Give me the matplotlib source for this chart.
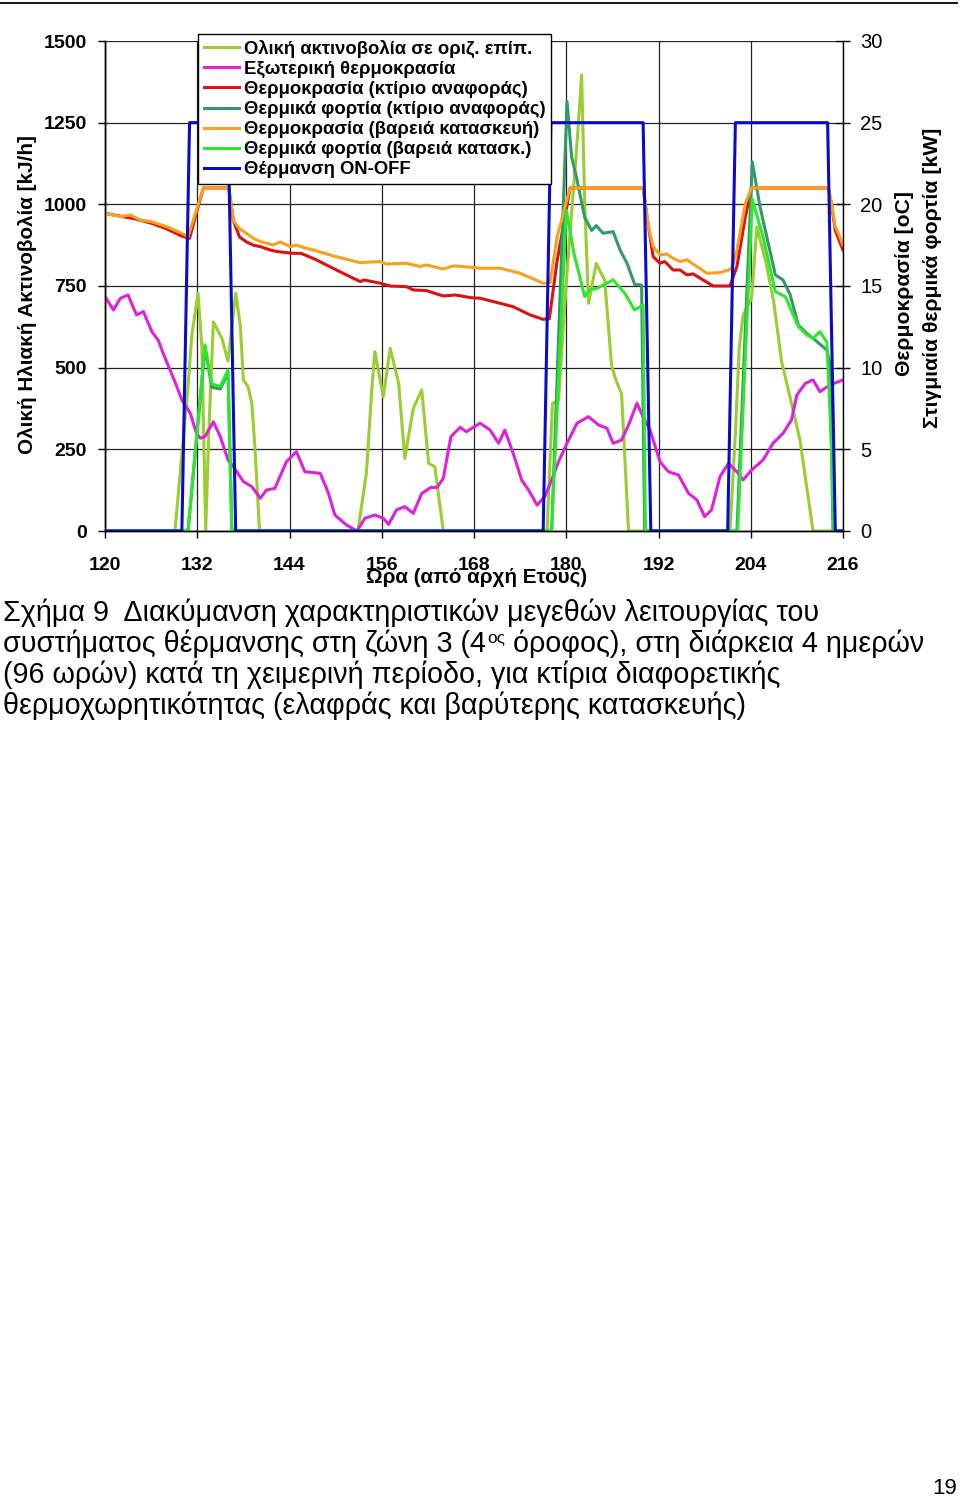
import matplotlib
matplotlib.use('Agg')
import matplotlib.pyplot as plt
from matplotlib.lines import Line2D

plt.rcParams['font.family'] = ['Liberation Sans', 'DejaVu Sans']

# ---------------- data ----------------
# Total solar radiation on horizontal surface [kJ/h]  (left axis)
rad_h = [120, 129.1, 130, 130.8, 131.3, 132.1, 132.6, 133.1, 133.5, 134.1, 135.2, 136, 137, 137.6, 138, 138.6, 139.1, 139.5, 140.1,
         152.9, 154, 154.7, 155.1, 156.2, 157.1, 158.2, 159, 160.1, 161.2, 162.1, 162.9, 164,
         177.5, 178.2, 179, 180, 181.4, 182, 182.4, 182.9, 183.9, 185, 185.9, 186.5, 187.2, 188.1,
         201.3, 202, 202.5, 203, 204.1, 204.8, 206, 207, 208, 209.1, 210.4, 212.1, 216]
rad_v = [0, 0, 235, 442, 600, 728, 564, 0, 300, 640, 590, 520, 728, 630, 462, 442, 391, 258, 0,
         0, 177, 432, 549, 411, 559, 452, 222, 375, 432, 207, 197, 0,
         0, 390, 400, 760, 1187, 1396, 1003, 697, 819, 768, 505, 460, 420, 0,
         0, 300, 560, 660, 712, 931, 820, 700, 520, 411, 279, 0, 0]

# Outdoor temperature [oC] (right axis)
out_h = [120, 121.1, 122, 123, 124.1, 125, 126.1, 126.9, 128, 129.1,
         130, 131.1, 131.9, 132.4, 133, 134.1, 135, 136, 136.7, 138,
         139.1, 140.2, 141, 142.1, 143.6, 144.9, 146, 148, 149, 149.9,
         151.4, 152.8, 153.8, 155.1, 156.2, 156.9, 157.9, 159, 160.1, 161.2,
         162.4, 163.2, 164, 165, 166.2, 167, 168.8, 170.1, 171.2, 172,
         173.1, 174.2, 175.1, 176.2, 177.2, 178.1, 179, 180.1, 181.4, 182.9,
         184.2, 185.3, 186.1, 187.2, 188.1, 189.2, 190, 190.9, 192.2, 193.3,
         194.6, 195.9, 197, 198, 198.9, 200, 201.1, 202.2, 203, 204.1,
         205.6, 206.9, 208.2, 209.3, 210, 211.1, 212.1, 213, 214.3, 216]
out_v = [14.35, 13.53, 14.25, 14.45, 13.23, 13.43, 12.2, 11.7, 10.37, 9.14,
         8.02, 7.2, 5.98, 5.68, 5.78, 6.69, 5.78, 4.35, 3.94, 3.02,
         2.72, 2.0, 2.51, 2.61, 4.24, 4.86, 3.63, 3.53, 2.4, 0.98,
         0.37, 0.0, 0.78, 0.98, 0.78, 0.4, 1.29, 1.49, 1.08, 2.3,
         2.67, 2.67, 3.22, 5.78, 6.35, 6.08, 6.6, 6.18, 5.37, 6.18,
         4.76, 3.12, 2.51, 1.59, 2.1, 3.12, 4.24, 5.37, 6.6, 7.0,
         6.49, 6.29, 5.37, 5.57, 6.49, 7.82, 7.0, 6.18, 4.24, 3.63,
         3.43, 2.31, 1.9, 0.88, 1.29, 3.33, 4.14, 3.63, 3.12, 3.73,
         4.35, 5.37, 5.98, 6.8, 8.33, 9.04, 9.25, 8.53, 8.94, 9.25]

# Zone temperature, reference building [oC]
red_h = [120, 124, 126, 128, 130, 131, 131.9, 132.8, 136.1, 136.7,
         137.5, 138.4, 139.3, 140.3, 141.5, 142.5, 144.5, 145.5, 147.5, 150.1,
         153.2, 153.7, 155.8, 157.1, 159.2, 160.1, 161.8, 164, 165.6, 167.5,
         168.8, 171.4, 173.1, 175.3, 177, 177.8, 178.8, 180.5, 190, 190.5,
         191.3, 192.2, 192.8, 193.9, 194.8, 195.7, 196.5, 197.8, 199.1, 201.3,
         202.2, 203.3, 204.1, 214.1, 214.5, 215, 215.5, 216]
red_v = [19.45, 19.1, 18.85, 18.5, 18.05, 17.92, 19.5, 21.0, 21.0, 19.0,
         18.0, 17.7, 17.5, 17.4, 17.2, 17.1, 17.0, 17.0, 16.6, 15.98,
         15.27, 15.37, 15.17, 15.0, 14.96, 14.76, 14.72, 14.39, 14.45, 14.29,
         14.25, 13.94, 13.73, 13.23, 12.96, 13.0, 16.5, 21.0, 21.0, 19.25,
         16.8, 16.39, 16.5, 15.98, 15.98, 15.68, 15.74, 15.37, 15.0, 15.0,
         16.19, 19.25, 21.0, 21.0, 20.0, 18.4, 17.8, 17.2]

# Thermal loads, reference building [kW]
ref_h = [120, 130.8, 133, 133.9, 135, 136, 136.5,
         178.1, 180.1, 180.7, 181.4, 182.4, 183.3, 183.9, 184.8, 186.1, 187, 187.9, 188.9, 189.8, 190.2,
         202.2, 204.2, 205.2, 207.2, 208.2, 209.1, 210.2, 211.3, 212.1, 213.9, 214.3, 214.7, 216]
ref_v = [0, 0, 11.2, 8.8, 8.7, 9.7, 0,
         0, 26.3, 22.9, 21.5, 19.2, 18.4, 18.7, 18.23, 18.33, 17.2, 16.4, 15.1, 15.06, 0,
         0, 22.6, 19.86, 15.68, 15.37, 14.5, 12.6, 12.1, 11.8, 11.08, 10.2, 0, 0]

# Zone temperature, heavy construction [oC]
ora_h = [120, 122, 123.3, 124.6, 126, 128, 129.8, 130.8, 131.9, 132.8,
         136.1, 136.7, 137.5, 138.4, 139.3, 140.2, 141.9, 142.8, 144.1, 144.9,
         146.2, 147.1, 149.7, 153.2, 155.8, 156.6, 159.2, 161, 161.8, 164,
         165.3, 167.5, 168.8, 171.4, 174, 177, 177.9, 178.8, 180.5, 190,
         190.7, 191.3, 192.2, 193.1, 193.9, 194.8, 195.7, 197, 198.3, 200,
         201.1, 201.5, 202.2, 203.3, 204.1, 214.1, 214.5, 215, 215.5, 216]
ora_v = [19.45, 19.25, 19.35, 19.04, 18.94, 18.64, 18.27, 18.02, 19.66, 21.0,
         21.0, 19.0, 18.5, 18.23, 17.92, 17.72, 17.51, 17.7, 17.41, 17.5,
         17.31, 17.2, 16.84, 16.43, 16.5, 16.35, 16.39, 16.19, 16.29, 16.04,
         16.23, 16.15, 16.09, 16.09, 15.78, 15.17, 15.2, 18.0, 21.0, 21.0,
         18.63, 17.41, 16.9, 16.96, 16.7, 16.5, 16.6, 16.19, 15.78, 15.82,
         15.98, 16.09, 17.2, 20.07, 21.0, 21.0, 20.07, 18.63, 18.1, 17.5]

# Thermal loads, heavy construction [kW]
hvy_h = [120, 130.8, 133, 133.9, 135, 136, 136.5,
         178.1, 180, 181, 182.4, 183, 184, 186.1, 187.6, 188.9, 190, 190.3,
         202.3, 204.2, 205.6, 207.2, 208.5, 210.2, 211.3, 212.1, 213, 213.9, 214.5, 214.8, 216]
hvy_v = [0, 0, 11.4, 9.0, 8.85, 9.86, 0,
         0, 19.66, 17.0, 14.35, 14.76, 14.86, 15.37, 14.56, 13.53, 13.84, 0,
         0, 20.3, 18.0, 14.65, 14.35, 12.51, 12.0, 11.8, 12.2, 11.55, 5.2, 0, 0]

# Heating ON-OFF
onoff_h = [120, 130, 131, 136, 137, 177, 178, 190, 191, 201, 202, 214, 215, 216]
onoff_v = [0, 0, 25, 25, 0, 0, 25, 25, 0, 0, 25, 25, 0, 0]

labels = ['Ολική ακτινοβολία σε οριζ. επίπ.',
          'Εξωτερική θερμοκρασία',
          'Θερμοκρασία (κτίριο αναφοράς)',
          'Θερμικά φορτία (κτίριο αναφοράς)',
          'Θερμοκρασία (βαρειά κατασκευή)',
          'Θερμικά φορτία (βαρειά κατασκ.)',
          'Θέρμανση ON-OFF']
colors = ['#9ACD32', '#DD22DD', '#DD1111', '#339966', '#F7A21B', '#2EE62E', '#0A0ACC']

x_ticks = list(range(120, 217, 12))
left_ticks = list(range(0, 1501, 250))
right_ticks = list(range(0, 31, 5))

# ---------------- figure ----------------
W, H = 960, 1497
fig = plt.figure(figsize=(W / 100, H / 100), dpi=100)
fig.patch.set_facecolor('white')


def fxp(px):
    return px / W


def fyp(py):
    return 1 - py / H


ax = fig.add_axes([fxp(105), fyp(531), (843 - 105) / W, (531 - 41) / H])
ax2 = ax.twinx()
LW = 2.2

h_rad, = ax.plot(rad_h, rad_v, color=colors[0], lw=LW)
h_out, = ax2.plot(out_h, out_v, color=colors[1], lw=LW)
h_red, = ax2.plot(red_h, red_v, color=colors[2], lw=LW)
h_ref, = ax2.plot(ref_h, ref_v, color=colors[3], lw=LW)
h_ora, = ax2.plot(ora_h, ora_v, color=colors[4], lw=LW)
h_hvy, = ax2.plot(hvy_h, hvy_v, color=colors[5], lw=LW)
h_onf, = ax2.plot(onoff_h, onoff_v, color=colors[6], lw=LW)

ax.set_xlim(120, 216)
ax.set_ylim(0, 1500)
ax2.set_ylim(0, 30)
ax.set_xticks(x_ticks)
ax.set_yticks(left_ticks)
ax2.set_yticks(right_ticks)
ax.grid(True, color='#222222', lw=0.9)

for a in (ax, ax2):
    a.spines['top'].set_visible(False)
    for s in a.spines.values():
        s.set_color('black')
        s.set_linewidth(1.0)
ax.spines['right'].set_visible(False)

ax.tick_params(axis='y', direction='out', length=5, width=1, pad=8, labelsize=14)
ax.tick_params(axis='x', direction='out', length=5, width=1, pad=13.5, labelsize=14)
ax2.tick_params(axis='y', direction='inout', length=9.5, width=1, pad=7.5, labelsize=14.5)
for lbl in ax.get_xticklabels() + ax.get_yticklabels():
    lbl.set_fontweight('bold')

leg = ax2.legend([h_rad, h_out, h_red, h_ref, h_ora, h_hvy, h_onf], labels,
                 loc='upper left', bbox_to_anchor=((198 - 105) / 738, (531 - 34) / 490),
                 borderaxespad=0, frameon=True, fancybox=False, edgecolor='black',
                 framealpha=1, prop=dict(weight='bold', size=13.3), handlelength=1.9,
                 handletextpad=0.28, labelspacing=0.165, borderpad=0.3)
leg.get_frame().set_linewidth(1.0)

# axis titles
fig.text(fxp(28), fyp(295), 'Ολική Ηλιακή Ακτινοβολία [kJ/h]', rotation=90,
         ha='center', va='center', weight='bold', size=14.9)
fig.text(fxp(905), fyp(284), 'Θερμοκρασία [oC]', rotation=90,
         ha='center', va='center', weight='bold', size=15.2)
fig.text(fxp(932), fyp(278), 'Στιγμιαία θερμικά φορτία [kW]', rotation=90,
         ha='center', va='center', weight='bold', size=15.3)
fig.text(fxp(477), fyp(577), 'Ωρα (από αρχή Ετους)', ha='center', va='center',
         weight='bold', size=14.9)

# page decorations
fig.add_artist(Line2D([0, 957 / W], [fyp(2.5), fyp(2.5)], color='black', lw=1.3))
fig.text(fxp(957), fyp(1494), '19', ha='right', va='baseline', size=16)

# ---------------- caption ----------------
cap_family = ['Liberation Sans', 'DejaVu Sans']
cap1 = 'Σχήμα 9  Διακύμανση χαρακτηριστικών μεγεθών λειτουργίας του'
cap2a = 'συστήματος θέρμανσης στη ζώνη 3 (4'
cap2sup = 'ος'
cap2b = ' όροφος), στη διάρκεια 4 ημερών'
cap3 = '(96 ωρών) κατά τη χειμερινή περίοδο, για κτίρια διαφορετικής'
cap4 = 'θερμοχωρητικότητας (ελαφράς και βαρύτερης κατασκευής)'

renderer = fig.canvas.get_renderer()


def width_px(t):
    return t.get_window_extent(renderer=renderer).width


tmp = fig.text(0, 0, cap1, family=cap_family, size=17)
cap_size = 17 * 817 / width_px(tmp)
tmp.remove()

x0 = 3
fig.text(fxp(x0), fyp(621), cap1, family=cap_family, size=cap_size, va='baseline')
t2a = fig.text(fxp(x0), fyp(652), cap2a, family=cap_family, size=cap_size, va='baseline')
w = width_px(t2a)
tsup = fig.text(fxp(x0 + w + 1), fyp(642), cap2sup, family=cap_family, size=cap_size * 0.6, va='baseline')
w2 = width_px(tsup)
fig.text(fxp(x0 + w + 1 + w2), fyp(652), cap2b, family=cap_family, size=cap_size, va='baseline')
fig.text(fxp(x0), fyp(683), cap3, family=cap_family, size=cap_size, va='baseline')
fig.text(fxp(x0), fyp(714), cap4, family=cap_family, size=cap_size, va='baseline')

fig.savefig('out.png', dpi=100, facecolor='white')
